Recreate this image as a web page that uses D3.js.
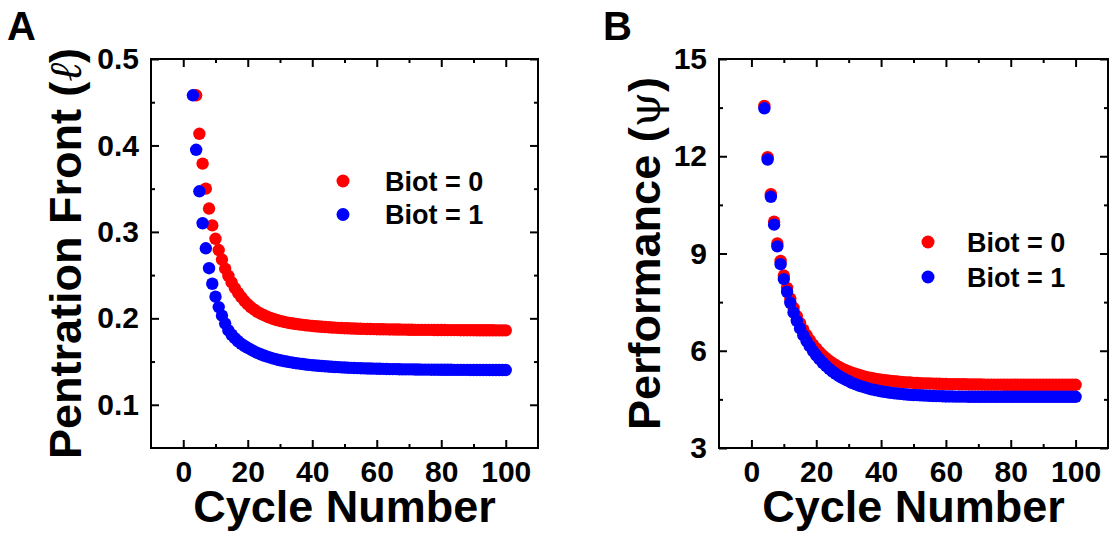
<!DOCTYPE html>
<html>
<head>
<meta charset="utf-8">
<script src="https://cdn.jsdelivr.net/npm/d3@7"></script>
<style>
  html, body { margin: 0; padding: 0; background: #fff; }
  svg { display: block; }
  .tick text { font-family: "Liberation Sans", Arial, sans-serif; font-weight: bold; }
</style>
</head>
<body>
<svg id="fig" width="1110" height="533"></svg>
<script>
// Cycle numbers for each series
const cyclesA0 = d3.range(4, 101);   // Biot = 0, penetration front
const cyclesA1 = d3.range(3, 101);   // Biot = 1, penetration front
const cyclesB = d3.range(4, 101);    // performance, both Biot numbers

// Penetration front, Biot = 0 (cycles 4..100)
const frontBiot0 = [
  0.458, 0.4135, 0.379, 0.350, 0.327, 0.3075, 0.292, 0.279, 0.268, 0.2575,
  0.249, 0.2415, 0.235, 0.2295, 0.2245, 0.220, 0.2162, 0.2128, 0.2100, 0.2075,
  0.2055, 0.2037, 0.2020, 0.2005, 0.1992, 0.1980, 0.1970, 0.1961, 0.1953, 0.1946,
  0.1940, 0.1934, 0.1929, 0.1924, 0.1920, 0.1916, 0.1912, 0.1908, 0.1905, 0.1902,
  0.1899, 0.1897, 0.1894, 0.1892, 0.1890, 0.1888, 0.1886, 0.1885, 0.1883, 0.1882,
  0.1880, 0.1879, 0.1878, 0.1877, 0.1876, 0.1875, 0.1874, 0.1873, 0.1873, 0.1872,
  0.1871, 0.1871, 0.1870, 0.1870, 0.1869, 0.1869, 0.1868, 0.1868, 0.1867, 0.1867,
  0.1867, 0.1866, 0.1866, 0.1866, 0.1865, 0.1865, 0.1865, 0.1865, 0.1864, 0.1864,
  0.1864, 0.1864, 0.1863, 0.1863, 0.1863, 0.1863, 0.1863, 0.1862, 0.1862, 0.1862,
  0.1862, 0.1862, 0.1862, 0.1861, 0.1861, 0.1861, 0.1861
];

// Penetration front, Biot = 1 (cycles 3..100)
const frontBiot1 = [
  0.458, 0.395, 0.347, 0.310, 0.281, 0.258, 0.240, 0.225, 0.213, 0.203,
  0.194, 0.186, 0.181, 0.177, 0.1735, 0.1705, 0.168, 0.1658, 0.1637, 0.1618,
  0.1600, 0.1584, 0.1570, 0.1557, 0.1545, 0.1534, 0.1524, 0.1515, 0.1507, 0.1500,
  0.1493, 0.1487, 0.1481, 0.1476, 0.1471, 0.1466, 0.1462, 0.1458, 0.1454, 0.1451,
  0.1448, 0.1445, 0.1442, 0.1440, 0.1437, 0.1435, 0.1433, 0.1431, 0.1429, 0.1427,
  0.1426, 0.1424, 0.1423, 0.1421, 0.1420, 0.1419, 0.1418, 0.1417, 0.1416, 0.1415,
  0.1414, 0.1413, 0.1412, 0.1412, 0.1411, 0.1410, 0.1410, 0.1409, 0.1409, 0.1408,
  0.1408, 0.1407, 0.1407, 0.1407, 0.1406, 0.1406, 0.1406, 0.1405, 0.1405, 0.1405,
  0.1405, 0.1404, 0.1404, 0.1404, 0.1404, 0.1404, 0.1403, 0.1403, 0.1403, 0.1403,
  0.1403, 0.1403, 0.1402, 0.1402, 0.1402, 0.1402, 0.1402, 0.1402
];

// Performance, Biot = 0 (cycles 4..100)
const perfBiot0 = [
  13.55, 11.97, 10.83, 9.98, 9.31, 8.77, 8.32, 7.94, 7.61, 7.32,
  7.07, 6.85, 6.65, 6.48, 6.33, 6.19, 6.07, 5.96, 5.86, 5.77,
  5.69, 5.62, 5.56, 5.50, 5.45, 5.40, 5.36, 5.32, 5.29, 5.26,
  5.23, 5.20, 5.18, 5.16, 5.14, 5.12, 5.11, 5.09, 5.08, 5.07,
  5.06, 5.05, 5.04, 5.03, 5.025, 5.02, 5.01, 5.005, 5.00, 4.995,
  4.99, 4.99, 4.985, 4.98, 4.98, 4.975, 4.975, 4.97, 4.97, 4.97,
  4.965, 4.965, 4.965, 4.96, 4.96, 4.96, 4.96, 4.96, 4.955, 4.955,
  4.955, 4.955, 4.955, 4.955, 4.95, 4.95, 4.95, 4.95, 4.95, 4.95,
  4.95, 4.95, 4.95, 4.95, 4.95, 4.95, 4.95, 4.95, 4.95, 4.95,
  4.95, 4.95, 4.95, 4.95, 4.95, 4.95, 4.95
];

// Performance, Biot = 1 (cycles 4..100)
const perfBiot1 = [
  13.48, 11.90, 10.75, 9.89, 9.22, 8.67, 8.21, 7.82, 7.48, 7.18,
  6.92, 6.69, 6.48, 6.30, 6.14, 5.99, 5.86, 5.74, 5.63, 5.53,
  5.44, 5.36, 5.29, 5.22, 5.16, 5.11, 5.06, 5.01, 4.97, 4.93,
  4.90, 4.87, 4.84, 4.81, 4.79, 4.77, 4.75, 4.73, 4.72, 4.70,
  4.69, 4.68, 4.67, 4.66, 4.65, 4.64, 4.635, 4.63, 4.625, 4.62,
  4.615, 4.61, 4.605, 4.60, 4.60, 4.595, 4.59, 4.59, 4.59, 4.585,
  4.585, 4.585, 4.585, 4.58, 4.58, 4.58, 4.58, 4.58, 4.58, 4.58,
  4.58, 4.58, 4.58, 4.58, 4.58, 4.58, 4.58, 4.58, 4.58, 4.58,
  4.58, 4.58, 4.58, 4.58, 4.58, 4.58, 4.58, 4.58, 4.58, 4.58,
  4.58, 4.58, 4.58, 4.58, 4.58, 4.58, 4.58
];

// Axis ticks
const xTicks = [0, 20, 40, 60, 80, 100];
const xMinor = [10, 30, 50, 70, 90];
const yTicksA = [0.1, 0.2, 0.3, 0.4, 0.5];
const yMinorA = [0.15, 0.25, 0.35, 0.45];
const yTicksB = [3, 6, 9, 12, 15];
const yMinorB = [4.5, 7.5, 10.5, 13.5];

const legendLabels = ["Biot = 0", "Biot = 1"];
const colors = ["#ff0000", "#0000ff"];

const svg = d3.select("#fig");
const FONT = '"Liberation Sans", Arial, sans-serif';

function panel(opt) {
  const { left, right, top, bottom } = opt.box;
  const x = d3.scaleLinear().domain([-10, 110]).range([left, right]);
  const y = d3.scaleLinear().domain(opt.yDomain).range([bottom, top]);
  const g = svg.append("g");

  const styleAxis = sel => {
    sel.select(".domain").remove();
    sel.selectAll(".tick line").attr("stroke", "#000").attr("stroke-width", 2);
  };

  // Major ticks with labels (bottom, left)
  g.append("g").attr("transform", `translate(0,${bottom})`)
    .call(d3.axisBottom(x).tickValues(xTicks).tickSize(-8).tickPadding(13).tickFormat(d3.format("d")))
    .call(styleAxis)
    .call(s => s.selectAll(".tick text").attr("font-size", 30).attr("fill", "#000"));
  g.append("g").attr("transform", `translate(${left},0)`)
    .call(d3.axisLeft(y).tickValues(opt.yTicks).tickSize(-8).tickPadding(12).tickFormat(opt.yFormat))
    .call(styleAxis)
    .call(s => s.selectAll(".tick text").attr("font-size", 30).attr("fill", "#000"));

  // Mirrored major ticks (top, right)
  g.append("g").attr("transform", `translate(0,${top})`)
    .call(d3.axisTop(x).tickValues(xTicks).tickSize(-8).tickFormat(""))
    .call(styleAxis);
  g.append("g").attr("transform", `translate(${right},0)`)
    .call(d3.axisRight(y).tickValues(opt.yTicks).tickSize(-8).tickFormat(""))
    .call(styleAxis);

  // Minor ticks on all four sides
  [[d3.axisBottom(x), bottom, true], [d3.axisTop(x), top, true],
   [d3.axisLeft(y), left, false], [d3.axisRight(y), right, false]].forEach(([ax, pos, horiz]) => {
    g.append("g").attr("transform", horiz ? `translate(0,${pos})` : `translate(${pos},0)`)
      .call(ax.tickValues(horiz ? xMinor : opt.yMinor).tickSize(-4).tickFormat(""))
      .call(styleAxis);
  });

  // Frame
  g.append("rect")
    .attr("x", left).attr("y", top)
    .attr("width", right - left).attr("height", bottom - top)
    .attr("fill", "none").attr("stroke", "#000").attr("stroke-width", 2);

  // Data points: Biot = 0 first, Biot = 1 on top
  opt.series.forEach((s, i) => {
    g.append("g").selectAll("circle")
      .data(d3.zip(s.x, s.y))
      .join("circle")
      .attr("cx", d => x(d[0]))
      .attr("cy", d => y(d[1]))
      .attr("r", 6.2)
      .attr("fill", colors[i]);
  });

  // Legend
  legendLabels.forEach((lab, i) => {
    const ly = opt.legend.y + i * opt.legend.gap;
    g.append("circle").attr("cx", opt.legend.x).attr("cy", ly).attr("r", 6.5).attr("fill", colors[i]);
    g.append("text").attr("x", opt.legend.tx).attr("y", ly + 9.5)
      .attr("font-family", FONT).attr("font-weight", "bold").attr("font-size", 27)
      .text(lab);
  });

  // X axis title
  g.append("text")
    .attr("x", (left + right) / 2).attr("y", 522)
    .attr("text-anchor", "middle")
    .attr("font-family", FONT).attr("font-weight", "bold").attr("font-size", 45)
    .text("Cycle Number");

  // Y axis title
  const yt = g.append("text")
    .attr("transform", `translate(${opt.yTitleX},${(top + bottom) / 2}) rotate(-90)`)
    .attr("text-anchor", "middle")
    .attr("font-family", FONT).attr("font-weight", "bold").attr("font-size", 45);
  yt.append("tspan").text(opt.yTitle + " (");
  yt.append("tspan")
    .attr("font-family", '"DejaVu Serif", "Liberation Serif", serif')
    .attr("font-style", opt.symbolItalic ? "italic" : "normal")
    .attr("font-weight", "normal")
    .text(opt.symbol);
  yt.append("tspan").text(")");

  // Panel letter
  g.append("text")
    .attr("x", opt.letterX).attr("y", 40)
    .attr("font-family", FONT).attr("font-weight", "bold").attr("font-size", 40)
    .text(opt.letter);
}

panel({
  box: { left: 151, right: 538, top: 59, bottom: 448 },
  yDomain: [0.05, 0.5],
  yTicks: yTicksA, yMinor: yMinorA, yFormat: d3.format(".1f"),
  series: [{ x: cyclesA0, y: frontBiot0 }, { x: cyclesA1, y: frontBiot1 }],
  legend: { x: 343, y: 181, gap: 33.5, tx: 385 },
  yTitle: "Pentration Front", symbol: "\u2113", symbolItalic: true, yTitleX: 81,
  letter: "A", letterX: 7
});

panel({
  box: { left: 719, right: 1108, top: 59, bottom: 448 },
  yDomain: [3, 15],
  yTicks: yTicksB, yMinor: yMinorB, yFormat: d3.format("d"),
  series: [{ x: cyclesB, y: perfBiot0 }, { x: cyclesB, y: perfBiot1 }],
  legend: { x: 928, y: 242, gap: 35, tx: 967 },
  yTitle: "Performance", symbol: "\u03C8", symbolItalic: false, yTitleX: 660,
  letter: "B", letterX: 603
});
</script>
</body>
</html>
